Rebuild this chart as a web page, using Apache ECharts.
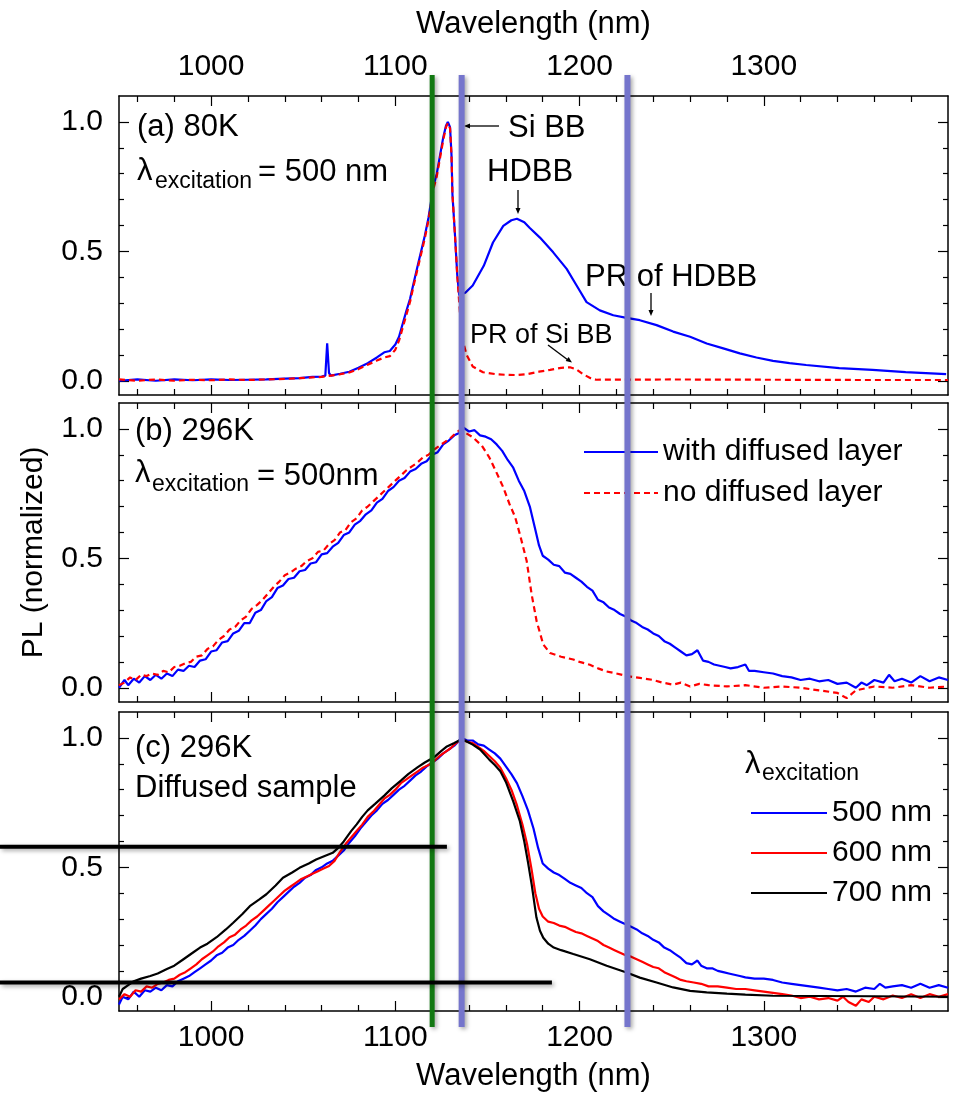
<!DOCTYPE html>
<html>
<head>
<meta charset="utf-8">
<script src="https://cdn.jsdelivr.net/npm/echarts@6/dist/echarts.min.js"></script>
<style>
html,body{margin:0;padding:0;background:#fff;}
#c{width:953px;height:1098px;}
</style>
</head>
<body>
<div id="c"></div>
<script>
// ---------------- data ----------------
const xTickMajor = [1000, 1100, 1200, 1300];
const xTickMinor = [960,980,1020,1040,1060,1080,1120,1140,1160,1180,1220,1240,1260,1280,1320,1340,1360,1380];
const yTickMajor = [0, 0.5, 1.0];
const yTickMinor = [0.1,0.2,0.3,0.4,0.6,0.7,0.8,0.9];

// (a) 80K
const a_with = [[950,0.0],[960,0.005],[970,0.0],[980,0.005],[990,0.002],[1000,0.005],[1010,0.003],[1020,0.004],[1030,0.005],[1040,0.008],[1048,0.01],[1055,0.015],[1060,0.016],[1062,0.02],[1063,0.145],[1064,0.03],[1065,0.02],[1070,0.027],[1075,0.035],[1080,0.05],[1085,0.068],[1090,0.09],[1094,0.11],[1097,0.115],[1100,0.14],[1102,0.17],[1104,0.22],[1106,0.27],[1108,0.317],[1110,0.38],[1112,0.44],[1114,0.5],[1116,0.56],[1118,0.63],[1120,0.72],[1121,0.76],[1122.5,0.8],[1124,0.86],[1126,0.94],[1127.5,0.985],[1128.5,1.0],[1129.7,0.98],[1130.5,0.87],[1131,0.72],[1132.4,0.56],[1133.6,0.41],[1134.7,0.33],[1136,0.335],[1138,0.34],[1142,0.368],[1148,0.444],[1153,0.534],[1158.6,0.598],[1163,0.62],[1166,0.626],[1170,0.612],[1173,0.59],[1178.5,0.553],[1185.7,0.496],[1193,0.432],[1198.4,0.368],[1203.8,0.304],[1211,0.272],[1218.3,0.253],[1225.5,0.243],[1232.7,0.234],[1241.8,0.215],[1250.8,0.19],[1260,0.17],[1269,0.144],[1278,0.125],[1287,0.106],[1296,0.09],[1305,0.077],[1314,0.068],[1323,0.061],[1341,0.049],[1359,0.042],[1377,0.033],[1399,0.026]];
const a_no = [[950,0.005],[960,0.0],[970,0.005],[980,0.0],[990,0.004],[1000,0.002],[1010,0.005],[1020,0.003],[1030,0.005],[1040,0.007],[1048,0.01],[1055,0.013],[1060,0.015],[1065,0.02],[1070,0.025],[1075,0.032],[1080,0.045],[1085,0.062],[1090,0.078],[1094,0.09],[1097,0.095],[1100,0.12],[1102,0.155],[1104,0.205],[1106,0.255],[1108,0.305],[1110,0.37],[1112,0.43],[1114,0.49],[1116,0.55],[1118,0.62],[1120,0.71],[1121,0.75],[1122.5,0.79],[1124,0.85],[1126,0.93],[1127.5,0.98],[1128.5,0.995],[1129.7,0.975],[1130.5,0.87],[1131,0.72],[1132.4,0.56],[1133.6,0.41],[1134.7,0.3],[1136,0.17],[1138.7,0.1],[1142,0.055],[1147.6,0.033],[1155,0.025],[1160,0.023],[1166,0.022],[1171,0.025],[1178,0.035],[1184,0.042],[1190,0.05],[1194.8,0.052],[1198,0.045],[1202,0.025],[1206,0.01],[1209,0.004],[1250,0.005],[1300,0.004],[1350,0.003],[1400,0.003]];

// (b) 296K
const b_with = [[950,0.0],[953,0.03],[955,0.01],[958,0.035],[961,0.02],[964,0.045],[967,0.03],[970,0.05],[973,0.035],[976,0.055],[979,0.045],[982,0.07],[985,0.065],[988,0.085],[991,0.08],[994,0.105],[997,0.11],[1000,0.14],[1003,0.145],[1006,0.175],[1009,0.18],[1012,0.21],[1015,0.22],[1018,0.25],[1021,0.25],[1024,0.29],[1027,0.3],[1030,0.335],[1033,0.35],[1036,0.385],[1039,0.395],[1042,0.42],[1045,0.425],[1048,0.45],[1051,0.455],[1054,0.48],[1057,0.485],[1060,0.515],[1063,0.52],[1066,0.545],[1069,0.56],[1072,0.59],[1075,0.6],[1078,0.63],[1081,0.645],[1084,0.67],[1087,0.685],[1090,0.715],[1093,0.73],[1096,0.76],[1099,0.775],[1102,0.8],[1105,0.81],[1108,0.835],[1111,0.845],[1114,0.865],[1117,0.875],[1120,0.9],[1123,0.91],[1126,0.94],[1129,0.955],[1132,0.975],[1135,0.985],[1137,1.005],[1140,0.99],[1143,0.995],[1146,0.975],[1149,0.97],[1152,0.96],[1155,0.94],[1158,0.915],[1161,0.88],[1164,0.85],[1167,0.8],[1170,0.76],[1173,0.7],[1176,0.61],[1178,0.55],[1180,0.51],[1183,0.495],[1186,0.475],[1189,0.47],[1192,0.445],[1195,0.44],[1198,0.425],[1201,0.41],[1204,0.39],[1207,0.375],[1210,0.34],[1213,0.33],[1216,0.31],[1219,0.3],[1222,0.285],[1225,0.275],[1228,0.26],[1231,0.25],[1234,0.235],[1237,0.225],[1240,0.21],[1243,0.2],[1246,0.18],[1249,0.17],[1252,0.155],[1255,0.14],[1258,0.125],[1261,0.13],[1264,0.145],[1267,0.105],[1270,0.1],[1273,0.09],[1276,0.085],[1279,0.08],[1282,0.075],[1286,0.08],[1290,0.09],[1292,0.065],[1295,0.065],[1300,0.06],[1305,0.055],[1310,0.045],[1315,0.04],[1320,0.03],[1325,0.035],[1330,0.025],[1335,0.03],[1340,0.015],[1345,0.02],[1350,0.0],[1353,0.02],[1356,0.01],[1360,0.03],[1365,0.02],[1368,0.05],[1371,0.025],[1375,0.035],[1380,0.02],[1385,0.045],[1390,0.025],[1395,0.04],[1400,0.03]];
const b_no = [[950,0.01],[953,0.02],[956,0.04],[959,0.03],[962,0.05],[965,0.045],[968,0.055],[971,0.05],[974,0.065],[977,0.06],[980,0.08],[983,0.085],[986,0.095],[989,0.1],[992,0.12],[995,0.125],[998,0.15],[1001,0.16],[1004,0.185],[1007,0.2],[1010,0.225],[1013,0.235],[1016,0.26],[1019,0.275],[1022,0.305],[1025,0.32],[1028,0.34],[1031,0.365],[1034,0.39],[1037,0.41],[1040,0.435],[1043,0.445],[1046,0.46],[1049,0.47],[1052,0.49],[1055,0.5],[1058,0.525],[1061,0.53],[1064,0.555],[1067,0.57],[1070,0.6],[1073,0.61],[1076,0.64],[1079,0.655],[1082,0.685],[1085,0.7],[1088,0.72],[1091,0.74],[1094,0.76],[1097,0.78],[1100,0.8],[1103,0.82],[1106,0.84],[1109,0.855],[1112,0.87],[1115,0.89],[1118,0.9],[1121,0.92],[1124,0.935],[1127,0.95],[1130,0.965],[1133,0.985],[1135,0.995],[1138,0.985],[1142,0.968],[1147,0.935],[1151,0.89],[1155,0.83],[1158.6,0.774],[1162,0.709],[1165,0.66],[1167.6,0.593],[1171.3,0.49],[1174,0.36],[1176.7,0.257],[1180.3,0.167],[1184,0.134],[1190,0.12],[1196.6,0.109],[1200,0.1],[1205.6,0.089],[1210,0.075],[1214.7,0.063],[1220,0.055],[1226,0.045],[1232.7,0.038],[1240,0.03],[1245,0.02],[1250.8,0.012],[1255,0.02],[1260,0.005],[1265,0.015],[1270,0.01],[1280,0.005],[1290,0.01],[1300,0.0],[1310,0.005],[1320,0.0],[1330,-0.01],[1340,-0.02],[1345,-0.04],[1350,-0.01],[1360,0.005],[1370,0.0],[1380,0.01],[1390,0.0],[1400,0.005]];

// (c) 296K, diffused sample, excitation 500 / 600 / 700 nm
const c_500 = [[950,-0.03],[952,0.0],[955,-0.01],[958,0.02],[961,0.0],[964,0.025],[967,0.02],[970,0.035],[973,0.025],[976,0.045],[979,0.04],[982,0.06],[985,0.07],[988,0.08],[991,0.095],[994,0.11],[997,0.125],[1000,0.14],[1003,0.16],[1006,0.17],[1009,0.19],[1012,0.2],[1015,0.22],[1018,0.235],[1021,0.255],[1024,0.275],[1027,0.3],[1030,0.32],[1033,0.34],[1036,0.365],[1039,0.385],[1042,0.405],[1045,0.425],[1048,0.44],[1051,0.46],[1054,0.47],[1057,0.49],[1060,0.5],[1063,0.515],[1066,0.525],[1069,0.545],[1072,0.565],[1075,0.595],[1078,0.62],[1081,0.65],[1084,0.675],[1087,0.7],[1090,0.72],[1093,0.745],[1096,0.76],[1099,0.78],[1102,0.8],[1105,0.815],[1108,0.835],[1111,0.855],[1114,0.87],[1117,0.89],[1120,0.905],[1123,0.92],[1126,0.94],[1129,0.955],[1132,0.97],[1134,0.985],[1136,1.0],[1139,0.99],[1142,0.99],[1145,0.975],[1148,0.97],[1151,0.955],[1154,0.94],[1157,0.92],[1160,0.89],[1163,0.86],[1166,0.825],[1169,0.775],[1172,0.72],[1175,0.65],[1177.5,0.575],[1180,0.515],[1183,0.495],[1186,0.48],[1189,0.47],[1192,0.455],[1195,0.44],[1198,0.43],[1201,0.42],[1204,0.4],[1207,0.385],[1210,0.35],[1213,0.33],[1216,0.315],[1219,0.3],[1222,0.29],[1225,0.28],[1228,0.27],[1231,0.26],[1234,0.245],[1237,0.235],[1240,0.22],[1243,0.21],[1246,0.19],[1249,0.18],[1252,0.165],[1255,0.15],[1258,0.13],[1261,0.125],[1264,0.14],[1266,0.12],[1269,0.11],[1272,0.11],[1275,0.1],[1278,0.095],[1281,0.09],[1284,0.085],[1287,0.08],[1290,0.075],[1295,0.07],[1300,0.07],[1305,0.065],[1310,0.055],[1315,0.05],[1320,0.045],[1325,0.04],[1330,0.035],[1335,0.03],[1340,0.025],[1345,0.03],[1350,0.02],[1355,0.035],[1360,0.03],[1363,0.05],[1366,0.035],[1370,0.04],[1375,0.045],[1380,0.035],[1385,0.05],[1390,0.035],[1395,0.045],[1400,0.035]];
const c_600 = [[950,-0.01],[953,0.01],[956,0.0],[959,0.025],[962,0.02],[965,0.04],[968,0.035],[971,0.05],[974,0.055],[977,0.065],[980,0.07],[983,0.085],[986,0.095],[989,0.11],[992,0.125],[995,0.145],[998,0.16],[1001,0.175],[1004,0.195],[1007,0.21],[1010,0.23],[1013,0.24],[1016,0.26],[1019,0.275],[1022,0.295],[1025,0.31],[1028,0.33],[1031,0.35],[1034,0.37],[1037,0.39],[1040,0.41],[1043,0.425],[1046,0.44],[1049,0.455],[1052,0.465],[1055,0.475],[1058,0.485],[1061,0.495],[1064,0.505],[1067,0.525],[1070,0.56],[1073,0.59],[1076,0.615],[1079,0.64],[1082,0.665],[1085,0.695],[1088,0.715],[1091,0.74],[1094,0.765],[1097,0.78],[1100,0.8],[1103,0.825],[1106,0.84],[1109,0.855],[1112,0.87],[1115,0.885],[1118,0.895],[1121,0.91],[1124,0.93],[1127,0.945],[1130,0.96],[1133,0.98],[1136,0.995],[1139,0.985],[1142,0.98],[1145,0.965],[1148,0.95],[1151,0.93],[1154,0.91],[1157,0.885],[1160,0.845],[1163,0.8],[1166,0.74],[1169,0.665],[1171.5,0.59],[1174,0.49],[1176,0.4],[1178,0.34],[1180,0.31],[1183,0.29],[1186,0.285],[1189,0.275],[1192,0.27],[1195,0.26],[1198,0.25],[1201,0.245],[1204,0.235],[1207,0.225],[1210,0.215],[1213,0.2],[1216,0.19],[1219,0.18],[1222,0.17],[1225,0.16],[1228,0.155],[1231,0.145],[1234,0.135],[1237,0.125],[1240,0.115],[1243,0.11],[1246,0.095],[1249,0.085],[1252,0.075],[1255,0.065],[1258,0.06],[1262,0.055],[1266,0.05],[1270,0.04],[1275,0.04],[1280,0.035],[1285,0.03],[1290,0.03],[1295,0.025],[1300,0.02],[1305,0.015],[1310,0.01],[1315,0.005],[1320,-0.005],[1325,0.0],[1330,-0.01],[1335,-0.005],[1340,-0.015],[1343,0.0],[1346,-0.02],[1350,-0.035],[1353,-0.01],[1357,-0.02],[1360,0.0],[1365,-0.01],[1370,0.005],[1375,-0.005],[1380,0.01],[1385,-0.005],[1390,0.01],[1395,0.0],[1400,0.01]];
const c_700 = [[950,0.0],[952,0.03],[955,0.045],[958,0.06],[962,0.07],[967,0.08],[971,0.09],[976,0.107],[980,0.12],[985,0.145],[990,0.17],[994,0.19],[998,0.205],[1003,0.23],[1008,0.26],[1012,0.286],[1017,0.32],[1021,0.35],[1026,0.375],[1030,0.396],[1035,0.43],[1039,0.46],[1044,0.48],[1048,0.498],[1053,0.515],[1057,0.53],[1062,0.545],[1066,0.556],[1069,0.575],[1072,0.6],[1076,0.64],[1079,0.666],[1082,0.695],[1085,0.72],[1089,0.745],[1094,0.777],[1098,0.805],[1103,0.835],[1107,0.86],[1112,0.886],[1116,0.905],[1121,0.925],[1125,0.95],[1128,0.967],[1132,0.98],[1136,0.995],[1139,0.985],[1142,0.974],[1146,0.955],[1151,0.916],[1154,0.895],[1157,0.871],[1160,0.83],[1164,0.755],[1167.6,0.678],[1170,0.6],[1172,0.52],[1174,0.434],[1176.6,0.306],[1178.5,0.255],[1180.3,0.228],[1183,0.205],[1186,0.19],[1190,0.18],[1196.6,0.165],[1205.6,0.145],[1214.7,0.12],[1225.5,0.094],[1232.7,0.074],[1241.8,0.055],[1250.8,0.036],[1260,0.023],[1269,0.017],[1280,0.012],[1290,0.008],[1305,0.004],[1330,0.003],[1360,0.002],[1400,0.0]];

// annotation guide lines (wavelengths / levels in panel c)
const vGuideWl = [1120, 1136, 1226];
const vGuideColor = ['#127812', '#7575cc', '#7575cc'];
const hGuideLevel = [0.579, 0.055];
const hGuideEndWl = [1128, 1185];

// ---------------- chart ----------------
const F = "'Liberation Sans', Arial, sans-serif";
const XMIN = 950, XMAX = 1400, YMIN = -0.055, YMAX = 1.1;
const gridTops = [96, 403, 712];
const GH = 299;

const chart = echarts.init(document.getElementById('c'), null, {renderer: 'canvas'});

const grids = gridTops.map(t => ({left: 119, right: 5, top: t, height: GH, containLabel: false}));

function mkX(gi, pos, major, showLabel, name, nameGap) {
  const o = {
    type: 'value', gridIndex: gi, position: pos, min: XMIN, max: XMAX,
    splitLine: {show: false},
    axisLine: {show: major, onZero: false, lineStyle: {color: '#000', width: 1.5}},
    axisTick: {show: true, inside: true, length: major ? 10 : 6, customValues: major ? xTickMajor : xTickMinor,
      lineStyle: {color: '#000', width: 1.2}},
    axisLabel: {show: showLabel, customValues: xTickMajor, fontSize: 30, fontFamily: F, color: '#000',
      margin: pos === 'top' ? 14 : 12, formatter: v => String(Math.round(v))},
  };
  if (name) {
    o.name = name; o.nameLocation = 'middle'; o.nameGap = nameGap;
    o.nameTextStyle = {fontSize: 31, fontFamily: F, color: '#000'};
  }
  return o;
}
function mkY(gi, pos, major, showLabel, name, nameGap) {
  const o = {
    type: 'value', gridIndex: gi, position: pos, min: YMIN, max: YMAX,
    splitLine: {show: false},
    axisLine: {show: major, onZero: false, lineStyle: {color: '#000', width: 1.5}},
    axisTick: {show: true, inside: true, length: major ? 10 : 5, customValues: major ? yTickMajor : yTickMinor,
      lineStyle: {color: '#000', width: 1.2}},
    axisLabel: {show: showLabel, customValues: yTickMajor, fontSize: 30, fontFamily: F, color: '#000', margin: 16,
      formatter: v => Number(v).toFixed(1)},
  };
  if (name) {
    o.name = name; o.nameLocation = 'middle'; o.nameGap = nameGap;
    o.nameTextStyle = {fontSize: 30, fontFamily: F, color: '#000'};
  }
  return o;
}

const xAxes = [], yAxes = [];
for (let g = 0; g < 3; g++) {
  xAxes.push(mkX(g, 'bottom', true, g === 2, g === 2 ? 'Wavelength (nm)' : null, 50));
  xAxes.push(mkX(g, 'bottom', false, false));
  xAxes.push(mkX(g, 'top', true, g === 0, g === 0 ? 'Wavelength (nm)' : null, 56));
  xAxes.push(mkX(g, 'top', false, false));
  yAxes.push(mkY(g, 'left', true, true, g === 1 ? 'PL (normalized)' : null, 70));
  yAxes.push(mkY(g, 'left', false, false));
  yAxes.push(mkY(g, 'right', true, false));
  yAxes.push(mkY(g, 'right', false, false));
}

function ser(name, g, data, color, dashed, z) {
  return {
    name, type: 'line', xAxisIndex: 4 * g, yAxisIndex: 4 * g, data,
    symbol: 'none', showSymbol: false, clip: true, z: z || 2,
    lineStyle: {color, width: 2.2, type: dashed ? [6, 4] : 'solid'},
    itemStyle: {color},
    emphasis: {disabled: true}
  };
}

const series = [
  ser('with diffused layer', 0, a_with, '#0000ff', false, 2),
  ser('no diffused layer', 0, a_no, '#ff0000', true, 3),
  ser('with diffused layer', 1, b_with, '#0000ff', false, 2),
  ser('no diffused layer', 1, b_no, '#ff0000', true, 3),
  ser('500 nm', 2, c_500, '#0000ff', false, 2),
  ser('600 nm', 2, c_600, '#ff0000', false, 3),
  ser('700 nm', 2, c_700, '#000000', false, 4),
];

const legendText = {fontSize: 30, fontFamily: F, color: '#000'};
chart.setOption({
  animation: false,
  backgroundColor: '#fff',
  grid: grids,
  xAxis: xAxes,
  yAxis: yAxes,
  legend: [
    {data: ['with diffused layer', 'no diffused layer'], orient: 'vertical', left: 578, top: 432,
      itemWidth: 74, itemHeight: 14, itemGap: 11, textStyle: legendText, selectedMode: false,
      itemStyle: {opacity: 0}},
    {data: ['500 nm', '600 nm', '700 nm'], orient: 'vertical', left: 745, top: 793,
      itemWidth: 76, itemHeight: 14, itemGap: 10, textStyle: legendText, selectedMode: false,
      itemStyle: {opacity: 0}}
  ],
  series
});

// ---------------- annotations ----------------
function txt(text, x, y, size, extra) {
  return Object.assign({type: 'text', x, y, z: 50,
    style: {text, fontSize: size, fontFamily: F, fill: '#000', align: 'left', verticalAlign: 'middle'}}, extra || {});
}
function seg(x1, y1, x2, y2, w) {
  return {type: 'line', z: 50, shape: {x1, y1, x2, y2}, style: {stroke: '#000', lineWidth: w || 1.3}};
}
function head(tx, ty, dx, dy) {
  const L = Math.hypot(dx, dy), ux = dx / L, uy = dy / L, px = -uy, py = ux;
  const bx = tx - ux * 6, by = ty - uy * 6;
  return {type: 'polygon', z: 50, shape: {points: [[tx, ty], [bx + px * 2.5, by + py * 2.5], [bx - px * 2.5, by - py * 2.5]]},
    style: {fill: '#000'}};
}

const gfx = [];
// panel a
gfx.push(txt('(a) 80K', 137, 127, 31));
gfx.push(txt('λ', 137, 171, 31));
gfx.push(txt('excitation', 155, 182, 23));
gfx.push(txt('= 500 nm', 258, 172, 31));
gfx.push(txt('Si BB', 508, 128, 31));
gfx.push(seg(499, 126, 468, 126)); gfx.push(head(464, 126, -1, 0));
gfx.push(txt('HDBB', 487, 172, 31));
gfx.push(seg(518, 190, 518, 208)); gfx.push(head(518, 214, 0, 1));
gfx.push(txt('PR of HDBB', 585, 277, 31));
gfx.push(seg(651, 293, 651, 310)); gfx.push(head(651, 316, 0, 1));
gfx.push(txt('PR of Si BB', 470, 336, 27));
gfx.push(seg(548, 345, 568, 360)); gfx.push(head(572, 362.5, 22, 16));
// panel b
gfx.push(txt('(b) 296K', 135, 431, 31));
gfx.push(txt('λ', 135, 473, 31));
gfx.push(txt('excitation', 152, 485, 23));
gfx.push(txt('= 500nm', 257, 476, 31));
// panel c
gfx.push(txt('(c) 296K', 135, 748, 31));
gfx.push(txt('Diffused sample', 135, 788, 31));
gfx.push(txt('λ', 745, 764, 31));
gfx.push(txt('excitation', 762, 774, 23));

// guide lines
const shadow = {shadowBlur: 4, shadowOffsetX: 2, shadowOffsetY: 2, shadowColor: 'rgba(0,0,0,0.35)'};
vGuideWl.forEach((wl, i) => {
  const x = chart.convertToPixel({xAxisIndex: 0}, wl);
  gfx.push({type: 'line', z: 60, shape: {x1: x, y1: 75, x2: x, y2: 1027},
    style: Object.assign({stroke: vGuideColor[i], lineWidth: i === 0 ? 5 : 6}, shadow)});
});
hGuideLevel.forEach((lv, i) => {
  const y = chart.convertToPixel({yAxisIndex: 8}, lv);
  const x2 = chart.convertToPixel({xAxisIndex: 8}, hGuideEndWl[i]);
  gfx.push({type: 'line', z: 60, shape: {x1: 0, y1: y, x2: x2, y2: y},
    style: Object.assign({stroke: '#000', lineWidth: 4}, shadow)});
});

chart.setOption({graphic: gfx});
</script>
</body>
</html>
